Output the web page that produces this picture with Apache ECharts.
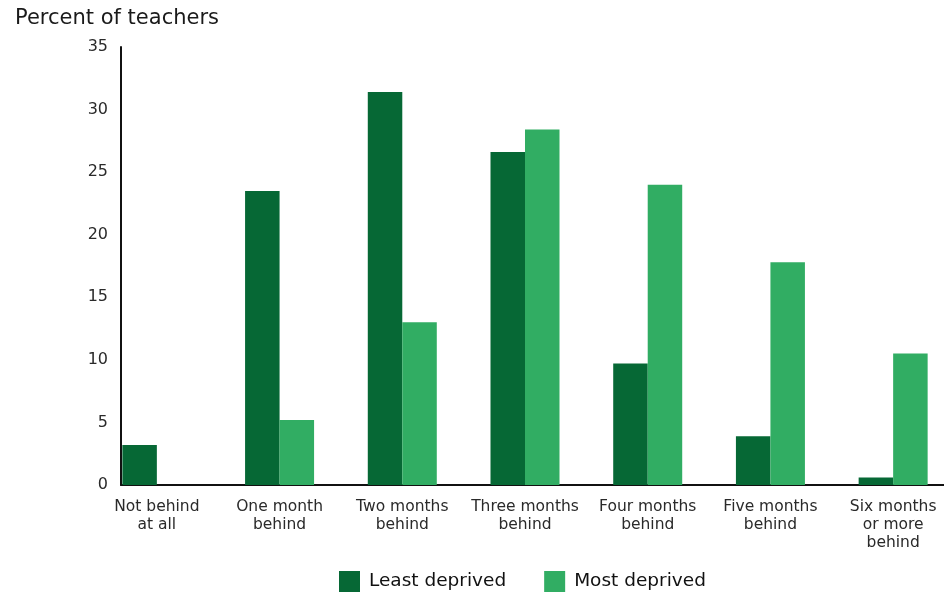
<!DOCTYPE html>
<html>
<head>
<meta charset="utf-8">
<script src="https://cdn.jsdelivr.net/npm/echarts@6/dist/echarts.min.js"></script>
<style>
html,body{margin:0;padding:0;background:#fff;overflow:hidden;}
#chart{width:960px;height:593px;}
</style>
</head>
<body>
<div id="chart"></div>
<script>
const categories = ["Not behind\nat all", "One month\nbehind", "Two months\nbehind", "Three months\nbehind", "Four months\nbehind", "Five months\nbehind", "Six months\nor more\nbehind"];
const leastDeprived = [3.2, 23.5, 31.4, 26.6, 9.7, 3.9, 0.6];
const mostDeprived = [0, 5.2, 13.0, 28.4, 24.0, 17.8, 10.5];
const yTicks = { min: 0, max: 35, interval: 5 };

const FONT = '"DejaVu Sans", "Open Sans", sans-serif';
const chart = echarts.init(document.getElementById('chart'), null, { renderer: 'canvas' });
chart.setOption({
  animation: false,
  backgroundColor: '#ffffff',
  title: {
    text: 'Percent of teachers',
    left: 10, top: 3,
    textStyle: { fontFamily: FONT, fontSize: 21, fontWeight: 'normal', color: '#1a1a1a' }
  },
  legend: {
    left: 334, top: 566,
    itemWidth: 21, itemHeight: 21, itemGap: 38,
    icon: 'rect',
    textStyle: { fontFamily: FONT, fontSize: 18.5, fontWeight: 'normal', color: '#111', padding: [0, 0, 0, 4] },
    data: ['Least deprived', 'Most deprived']
  },
  grid: [
    { left: 95.5, width: 859, top: 47, bottom: 108, containLabel: false },
    { left: 121, right: 0, top: 47, bottom: 108, containLabel: false }
  ],
  xAxis: [
    {
      type: 'category', gridIndex: 0, data: categories,
      axisLine: { show: false }, axisTick: { show: false },
      axisLabel: { interval: 0, margin: 13, fontFamily: FONT, fontSize: 15.5, color: '#2a2a2a', lineHeight: 18 }
    },
    {
      type: 'value', gridIndex: 1, min: 0, max: 1,
      axisLine: { show: true, lineStyle: { color: '#111', width: 2 } },
      axisTick: { show: false }, axisLabel: { show: false }, splitLine: { show: false }
    }
  ],
  yAxis: [
    { type: 'value', gridIndex: 0, min: yTicks.min, max: yTicks.max, interval: yTicks.interval, show: false },
    {
      type: 'value', gridIndex: 1, min: yTicks.min, max: yTicks.max, interval: yTicks.interval,
      axisLine: { show: true, lineStyle: { color: '#111', width: 2 } },
      axisTick: { show: false }, splitLine: { show: false },
      axisLabel: { margin: 13, fontFamily: FONT, fontSize: 16, color: '#2a2a2a' }
    }
  ],
  series: [
    {
      name: 'Least deprived', type: 'bar', xAxisIndex: 0, yAxisIndex: 0,
      data: leastDeprived, barWidth: 34.5, barGap: '0%',
      itemStyle: { color: '#066835' }
    },
    {
      name: 'Most deprived', type: 'bar', xAxisIndex: 0, yAxisIndex: 0,
      data: mostDeprived, barWidth: 34.5, barGap: '0%',
      itemStyle: { color: '#31ad63' }
    }
  ]
});
</script>
</body>
</html>
